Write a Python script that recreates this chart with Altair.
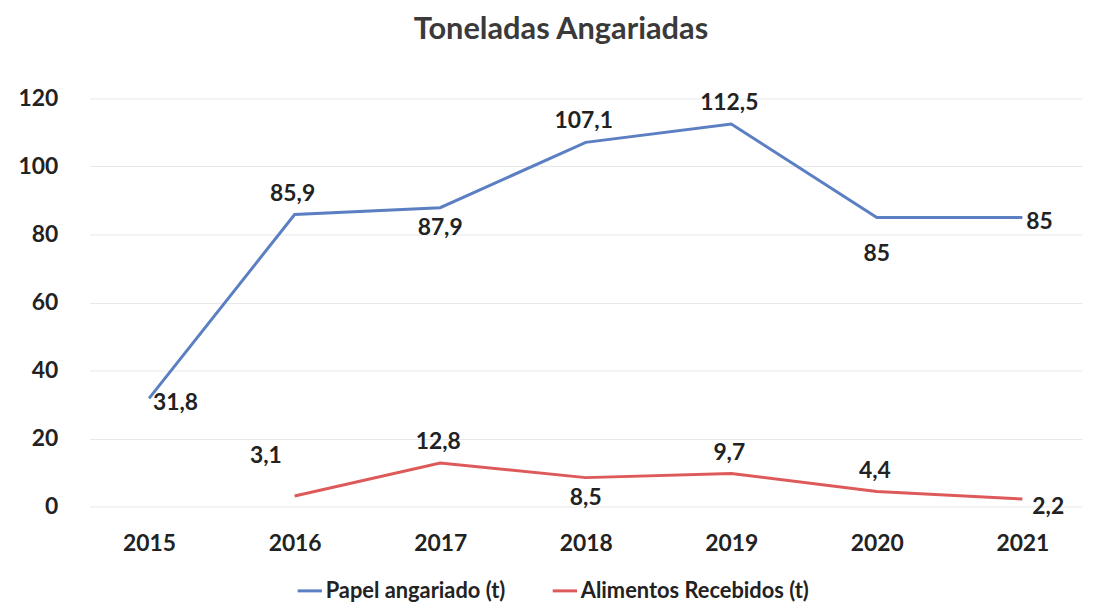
import altair as alt
import pandas as pd

years = ["2015", "2016", "2017", "2018", "2019", "2020", "2021"]
series_names = ["Papel angariado (t)", "Alimentos Recebidos (t)"]
papel = [31.8, 85.9, 87.9, 107.1, 112.5, 85, 85]
alimentos = [None, 3.1, 12.8, 8.5, 9.7, 4.4, 2.2]
papel_place = ["right", "above", "below", "above", "above", "farbelow", "right"]
alimentos_place = [None, "leftabove", "above", "below", "above", "above", "rightlow"]
colors = ["#5B7FC2", "#DE5A5A"]

rows = []
for s, vals, places in [(series_names[0], papel, papel_place), (series_names[1], alimentos, alimentos_place)]:
    for y, v, p in zip(years, vals, places):
        if v is None:
            continue
        lab = (("%g" % v).replace(".", ","))
        rows.append({"year": y, "value": v, "series": s, "place": p, "label": lab})
df = pd.DataFrame(rows)

FONT = "Lato"
x = alt.X("year:N", sort=years, scale=alt.Scale(type="point", padding=0.41),
          axis=alt.Axis(title=None, labelAngle=0, labelFontSize=23, labelFont=FONT, labelFontWeight="bold",
                        labelColor="#222222", labelPadding=26, ticks=False, domain=False, grid=False))
y = alt.Y("value:Q", scale=alt.Scale(domain=[0, 120], nice=False),
          axis=alt.Axis(title=None, values=[0, 20, 40, 60, 80, 100, 120], labelFontSize=23, labelFont=FONT,
                        labelFontWeight="bold", labelColor="#222222", labelPadding=32, ticks=False,
                        domain=False, gridColor="#e8e8e8", gridWidth=1))

base = alt.Chart(df)
lines = base.mark_line(strokeWidth=3).encode(
    x=x, y=y,
    color=alt.Color("series:N", sort=series_names,
                    scale=alt.Scale(domain=series_names, range=colors),
                    legend=alt.Legend(title=None, orient="none", legendX=208, legendY=482, direction="horizontal",
                                      symbolType="stroke", symbolSize=600, symbolStrokeWidth=3,
                                      labelFont=FONT, labelFontSize=22, labelFontWeight="bold",
                                      labelColor="#222222", columnPadding=40, labelOffset=2, labelLimit=0))
)

placements = {
    "above": dict(align="center", baseline="middle", dx=-2, dy=-21),
    "below": dict(align="center", baseline="middle", dx=0, dy=21),
    "farbelow": dict(align="center", baseline="middle", dx=0, dy=37),
    "right": dict(align="left", baseline="middle", dx=4, dy=5),
    "leftabove": dict(align="center", baseline="middle", dx=-29, dy=-40),
    "rightlow": dict(align="left", baseline="middle", dx=10, dy=8),
}
layers = [lines]
for name, st in placements.items():
    layers.append(
        base.transform_filter(alt.datum.place == name).mark_text(
            font=FONT, fontSize=23, fontWeight="bold", color="#222222", **st
        ).encode(x=x, y=y, text="label:N")
    )

chart = alt.layer(*layers).properties(
    width=1000, height=411,
    autosize=alt.AutoSizeParams(type="none"),
    padding={"left": 82, "top": 89, "right": 7, "bottom": 96},
    title=alt.TitleParams("Toneladas Angariadas", font=FONT, fontSize=31, fontWeight="bold",
                          color="#3a3a3a", offset=42, dx=-25),
).configure_view(stroke=None)

chart.save("out.html", embed_options={"renderer": "svg", "actions": False})
